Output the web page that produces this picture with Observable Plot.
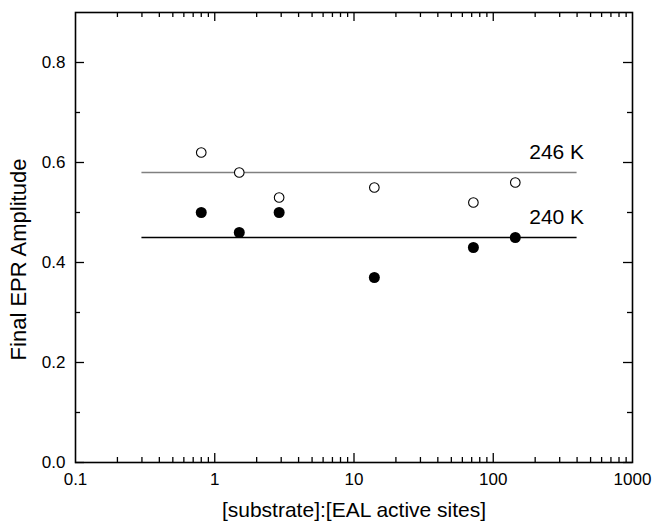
<!DOCTYPE html>
<html>
<head>
<meta charset="utf-8">
<script src="https://cdn.jsdelivr.net/npm/d3@7"></script>
<script src="https://cdn.jsdelivr.net/npm/@observablehq/plot@0.6"></script>
<style>
  body { margin: 0; background: #fff; }
  svg { font-family: "Liberation Sans", Arial, sans-serif; }
</style>
</head>
<body>
<div id="chart"></div>
<script>
// Data
const ratio = [0.8, 1.5, 2.9, 14, 72, 144];
const amp246 = [0.62, 0.58, 0.53, 0.55, 0.52, 0.56];
const amp240 = [0.50, 0.46, 0.50, 0.37, 0.43, 0.45];
const fitLabels = ["246 K", "240 K"];
const fitLevels = [0.58, 0.45];
const fitColors = ["#808080", "#000000"];
const fitRange = [0.3, 400];

const xTickLabels = [0.1, 1, 10, 100, 1000];
const yTickLabels = [0, 0.2, 0.4, 0.6, 0.8];
const yMinorTicks = [0.1, 0.3, 0.5, 0.7];
const xTitle = "[substrate]:[EAL active sites]";
const yTitle = "Final EPR Amplitude";

const xMinorTicks = [];
for (const dec of [0.1, 1, 10, 100]) for (let k = 2; k <= 9; k++) xMinorTicks.push(+(dec * k).toPrecision(3));
const xMajorTicks = [1, 10, 100];

const W = 654, H = 523;
const mL = 75, mR = 22, mT = 12, mB = 61;
const innerW = W - mL - mR, innerH = H - mT - mB;
const major = 9, minor = 5;

const open = ratio.map((r, i) => ({r, v: amp246[i]}));
const filled = ratio.map((r, i) => ({r, v: amp240[i]}));
const fits = fitLevels.map((y, i) => ({y, x1: fitRange[0], x2: fitRange[1], c: fitColors[i], label: fitLabels[i]}));

const chart = Plot.plot({
  width: W, height: H,
  marginLeft: mL, marginRight: mR, marginTop: mT, marginBottom: mB,
  x: {type: "log", domain: [0.1, 1000]},
  y: {domain: [0, 0.9]},
  style: {fontFamily: "Liberation Sans, Arial, sans-serif", color: "#000", background: "#fff"},
  marks: [
    Plot.ruleY(fits, {y: "y", x1: "x1", x2: "x2", stroke: "c", strokeWidth: 1.4}),
    Plot.text(fits, {x: "x2", y: "y", text: "label", textAnchor: "end", dx: 7, dy: -20, fontSize: 21, fill: "#000"}),
    Plot.dot(open, {x: "r", y: "v", r: 4.8, stroke: "#000", strokeWidth: 1.1, fill: "#fff"}),
    Plot.dot(filled, {x: "r", y: "v", r: 5.5, fill: "#000", stroke: "none"}),
    // inward ticks: bottom & top
    Plot.tickX(xMajorTicks, {x: d => d, insetTop: innerH - major, stroke: "#000", strokeWidth: 1.3}),
    Plot.tickX(xMinorTicks, {x: d => d, insetTop: innerH - minor, stroke: "#000", strokeWidth: 1.3}),
    Plot.tickX(xMajorTicks, {x: d => d, insetBottom: innerH - major, stroke: "#000", strokeWidth: 1.3}),
    Plot.tickX(xMinorTicks, {x: d => d, insetBottom: innerH - minor, stroke: "#000", strokeWidth: 1.3}),
    // inward ticks: left & right
    Plot.tickY(yTickLabels, {y: d => d, insetRight: innerW - major, stroke: "#000", strokeWidth: 1.3}),
    Plot.tickY(yMinorTicks, {y: d => d, insetRight: innerW - minor, stroke: "#000", strokeWidth: 1.3}),
    Plot.tickY(yTickLabels, {y: d => d, insetLeft: innerW - major, stroke: "#000", strokeWidth: 1.3}),
    Plot.tickY(yMinorTicks, {y: d => d, insetLeft: innerW - minor, stroke: "#000", strokeWidth: 1.3}),
    Plot.frame({stroke: "#000", strokeWidth: 1.6}),
    Plot.axisX(xTickLabels, {tickSize: 0, tickPadding: 10, fontSize: 17, tickFormat: d => String(d), label: null}),
    Plot.axisY(yTickLabels, {tickSize: 0, tickPadding: 10, fontSize: 17, tickFormat: d3.format(".1f"), label: null}),
    Plot.text([xTitle], {frameAnchor: "bottom", dy: 48, fontSize: 21, textAnchor: "middle", lineAnchor: "middle", fill: "#000"}),
    Plot.text([yTitle], {frameAnchor: "left", dx: -57, dy: 22, rotate: -90, fontSize: 22, textAnchor: "middle", lineAnchor: "middle", fill: "#000"})
  ]
});
document.getElementById("chart").append(chart);
</script>
</body>
</html>
